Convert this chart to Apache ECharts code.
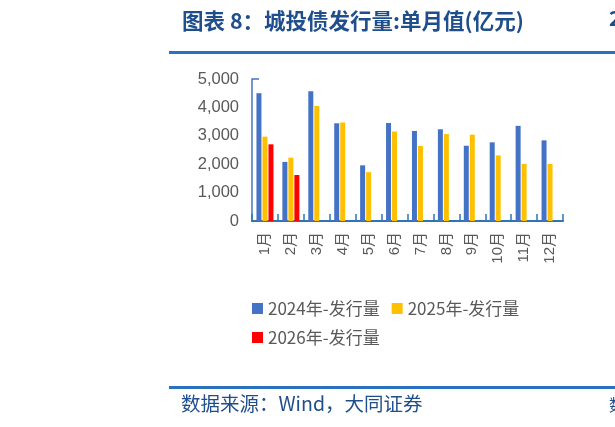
<!DOCTYPE html>
<html>
<head>
<meta charset="utf-8">
<script src="https://cdn.jsdelivr.net/npm/echarts@6/dist/echarts.min.js"></script>
<style>html,body{margin:0;padding:0;background:#fff;}#c{width:615px;height:427px;}</style>
</head>
<body>
<div id="c"></div>
<script>
var categories = ['1月','2月','3月','4月','5月','6月','7月','8月','9月','10月','11月','12月'];
var s2024 = [4500, 2080, 4570, 3440, 1960, 3450, 3170, 3230, 2650, 2770, 3350, 2840];
var s2025 = [2970, 2230, 4050, 3470, 1720, 3150, 2640, 3060, 3040, 2310, 2010, 2010];
var s2026 = [2700, 1620, null, null, null, null, null, null, null, null, null, null];
var seriesNames = ['2024年-发行量', '2025年-发行量', '2026年-发行量'];
var yTicks = [0, 1000, 2000, 3000, 4000, 5000];

var chart = echarts.init(document.getElementById('c'), null, {renderer: 'canvas'});
var font = 'Liberation Sans, Arial, Noto Sans CJK SC, sans-serif';
var cjk = 'Noto Sans CJK SC, sans-serif';
chart.setOption({
  animation: false,
  backgroundColor: '#ffffff',
  title: {
    text: '图表 8：城投债发行量:单月值(亿元)',
    left: 177, top: 5,
    textStyle: {fontFamily: cjk, fontSize: 21.5, fontWeight: 'bold', color: '#1f4e8c'}
  },
  grid: {left: 252, right: 52, top: 79, bottom: 206, containLabel: false},
  legend: {
    left: 247, top: 295, width: 300,
    itemWidth: 11, itemHeight: 11, itemGap: 12,
    icon: 'rect',
    textStyle: {fontFamily: cjk, fontSize: 17, color: '#595959'},
    data: seriesNames
  },
  xAxis: {
    type: 'category',
    data: categories,
    boundaryGap: true,
    axisLine: {show: true, lineStyle: {color: '#2e75b6', width: 2}},
    axisTick: {show: true, inside: true, length: 7, alignWithLabel: false, lineStyle: {color: '#2e75b6', width: 1.5}},
    axisLabel: {rotate: 90, margin: 11, fontFamily: font, fontSize: 15, color: '#595959'}
  },
  yAxis: {
    type: 'value',
    min: 0, max: 5000, interval: 1000,
    splitLine: {show: false},
    axisLine: {show: true, lineStyle: {color: '#4472c4', width: 1.5}},
    axisTick: {show: true, inside: true, length: 7, customValues: [5000], lineStyle: {color: '#4472c4', width: 1.5}},
    axisLabel: {
      margin: 13, fontFamily: font, fontSize: 16.5, color: '#595959',
      customValues: yTicks,
      formatter: function (v) { return v.toLocaleString('en-US'); }
    }
  },
  series: [
    {name: seriesNames[0], type: 'bar', data: s2024, barWidth: 5, barGap: '20%', itemStyle: {color: '#4472c4'}},
    {name: seriesNames[1], type: 'bar', data: s2025, barWidth: 5, barGap: '20%', itemStyle: {color: '#ffc000'}},
    {name: seriesNames[2], type: 'bar', data: s2026, barWidth: 5, barGap: '20%', itemStyle: {color: '#ff0000'}}
  ],
  graphic: [
    {type: 'rect', shape: {x: 169, y: 51, width: 446, height: 3}, style: {fill: '#2a72c0'}, silent: true},
    {type: 'rect', shape: {x: 169, y: 386, width: 446, height: 3}, style: {fill: '#2a72c0'}, silent: true},
    {type: 'text', left: 181, top: 394, style: {text: '数据来源：Wind，大同证券', fontFamily: cjk, fontSize: 19.5, fill: '#1f4e8c'}, silent: true},
    {type: 'text', left: 609, top: 8, style: {text: '2', fontFamily: cjk, fontSize: 21, fontWeight: 'bold', fill: '#1f4e8c'}, silent: true},
    {type: 'text', left: 609, top: 397, style: {text: '数', fontFamily: cjk, fontSize: 16, fill: '#1f4e8c'}, silent: true}
  ]
});
</script>
</body>
</html>
